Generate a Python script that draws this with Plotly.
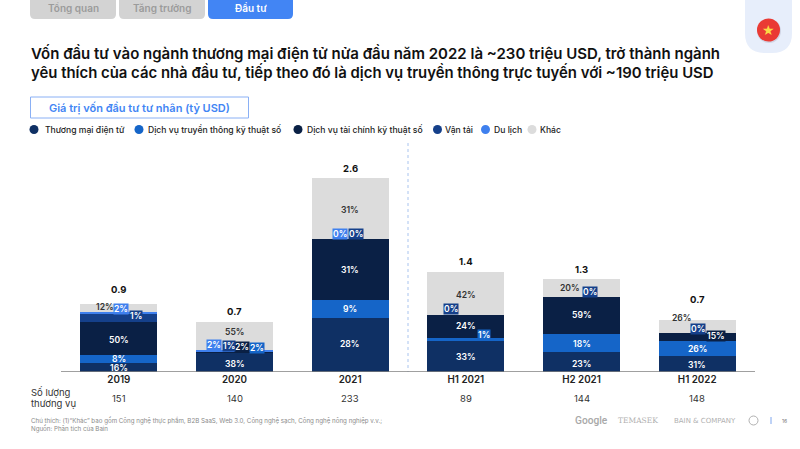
import plotly.graph_objects as go

W, H = 800, 449
categories = ["2019", "2020", "2021", "H1 2021", "H2 2021", "H1 2022"]
totals = ["0.9", "0.7", "2.6", "1.4", "1.3", "0.7"]
deals = [151, 140, 233, 89, 144, 148]

names = ["Thương mại điện tử", "Dịch vụ truyền thông kỹ thuật số", "Dịch vụ tài chính kỹ thuật số", "Vận tải", "Du lịch", "Khác"]
colors = ["#0f3064", "#1565c8", "#0a2045", "#15408a", "#3f80ee", "#dcdcdc"]

ecommerce = [0.12, 0.26, 0.72, 0.415, 0.27, 0.215]
media = [0.107, 0.004, 0.24, 0.04, 0.24, 0.2]
finance = [0.44, 0.01, 0.82, 0.31, 0.5, 0.107]
transport = [0.12, 0.005, 0.0, 0.0, 0.0, 0.0]
travel = [0.02, 0.02, 0.0, 0.0, 0.0, 0.0]
other = [0.10, 0.375, 0.82, 0.575, 0.24, 0.175]
series = [ecommerce, media, finance, transport, travel, other]

pct_ecommerce = [16, 38, 28, 33, 23, 31]
pct_media = [8, 2, 9, 1, 18, 26]
pct_finance = [50, 2, 31, 24, 59, 15]
pct_transport = [1, 1, 0, 0, 0, 0]
pct_travel = [2, 2, 0, None, None, None]
pct_other = [12, 55, 31, 42, 20, 26]
pcts = [pct_ecommerce, pct_media, pct_finance, pct_transport, pct_travel, pct_other]

# label placement (pixel offsets from segment midpoint); boxed = label sits on its own colour chip
offsets = {
    (0, 0): (0, 0), (0, 1): (0, 1.5), (0, 2): (0, -1), (0, 3): (0, 0), (0, 4): (0, 2), (0, 5): (0, 1),
    (1, 0): (0, 0), (1, 1): (22, -4.6), (1, 2): (0, 0), (1, 3): (18, -4.5), (1, 4): (0, 1), (1, 5): (0, 0.5),
    (2, 0): (0, 1.5), (2, 1): (7, -5), (2, 2): (0, 0), (2, 3): (0, 0), (2, 4): (0, 0), (2, 5): (19, -1),
    (3, 0): (17, -1.5), (3, 1): (-6, -5.5), (3, 2): (6, -5), (3, 3): (-15, -6), (3, 4): (8, -5), (3, 5): (1, -4),
    (4, 0): (2, -4), (4, 1): (-20.5, -5.5), (4, 2): (-10, -5),
    (5, 0): (-14, -1), (5, 1): (0, -4), (5, 2): (0, 1.5), (5, 3): (0, 1.5), (5, 4): (-12, 0), (5, 5): (-16, -8.5),
}
boxed = {(1, 1), (1, 3), (2, 1), (2, 5), (3, 0), (3, 1), (3, 2), (3, 3), (3, 4), (3, 5), (4, 0), (4, 1), (4, 2)}
total_shift = [4, 0, -1, 0, -1, 10]

FONT = "Inter, Roboto, sans-serif"


def px(x):
    return x / W


def py(y):
    return 1 - y / H


fig = go.Figure()
for name, vals, col in zip(names, series, colors):
    fig.add_trace(go.Bar(x=list(range(6)), y=vals, name=name, marker=dict(color=col, line=dict(width=0)),
                         width=0.665, showlegend=False, hoverinfo="name+y"))

ann = []
shapes = []


def text(x, y, t, size=10, color="#1f1f1f", weight=400, anchor="left", family=FONT):
    ann.append(dict(xref="paper", yref="paper", x=px(x), y=py(y), text=t, showarrow=False, xanchor=anchor,
                    yanchor="middle", font=dict(size=size, color=color, family=family, weight=weight),
                    borderpad=0))


def path_rect(x0, y0, x1, y1, r, fill):
    d = (f"M {px(x0)} {py(y0)} L {px(x1)} {py(y0)} L {px(x1)} {py(y1 - r)} "
         f"Q {px(x1)} {py(y1)} {px(x1 - r)} {py(y1)} L {px(x0 + r)} {py(y1)} "
         f"Q {px(x0)} {py(y1)} {px(x0)} {py(y1 - r)} Z")
    shapes.append(dict(type="path", xref="paper", yref="paper", path=d, fillcolor=fill, line=dict(width=0), layer="below"))


def circle(cx, cy, r, fill, layer="above"):
    shapes.append(dict(type="circle", xref="paper", yref="paper", x0=px(cx - r), x1=px(cx + r), y0=py(cy + r), y1=py(cy - r),
                       fillcolor=fill, line=dict(width=0), layer=layer))


# segment labels
for s, (vals, plist) in enumerate(zip(series, pcts)):
    for c in range(6):
        if plist[c] is None:
            continue
        base = sum(series[k][c] for k in range(s))
        mid = base + vals[c] / 2
        dx, dy = offsets[(s, c)]
        is_box = (s, c) in boxed
        on_grey = s == 5
        ann.append(dict(x=c, y=mid, xref="x", yref="y", text=f"{plist[c]}%", showarrow=False, xshift=dx, yshift=-dy,
                        font=dict(size=8.6, family=FONT, weight=600, color="#333333" if on_grey else "#ffffff"),
                        bgcolor=colors[s] if is_box else "rgba(0,0,0,0)", borderpad=0))

# totals above the stacks and deal counts below
for c in range(6):
    top = sum(v[c] for v in series)
    ann.append(dict(x=c, y=top, xref="x", yref="y", text=totals[c], showarrow=False, yanchor="bottom",
                    yshift=3 + total_shift[c], font=dict(size=9.5, family=FONT, weight=700, color="#111111")))
    ann.append(dict(x=c, y=py(398), xref="x", yref="paper", text=str(deals[c]), showarrow=False, yanchor="middle",
                    font=dict(size=9.5, family=FONT, color="#333333")))

# tabs
path_rect(30, -4, 116, 19, 5, "#d3d3d3")
path_rect(119, -4, 205, 19, 5, "#d3d3d3")
path_rect(208, -4, 293, 19, 5, "#4285f4")
text(73, 8, "Tổng quan", 10, "#9b9b9b", 600, "center")
text(162, 8, "Tăng trưởng", 10, "#9b9b9b", 600, "center")
text(250.5, 8, "Đầu tư", 10, "#ffffff", 600, "center")

# flag tab
path_rect(745, -4, 792, 53, 20, "#e7eefb")
circle(769, 31, 12, "#d0d4e4")
circle(768.5, 30, 11.5, "#ea3a34")
text(768.5, 30, "★", 14, "#fbd945", 400, "center", "DejaVu Sans")

# headline
text(30, 53, "Vốn đầu tư vào ngành thương mại điện tử nửa đầu năm 2022 là ~230 triệu USD, trở thành ngành", 15.0, "#111111", 600)
text(30, 72, "yêu thích của các nhà đầu tư, tiếp theo đó là dịch vụ truyền thông trực tuyến với ~190 triệu USD", 14.9, "#111111", 600)

# subtitle box
shapes.append(dict(type="rect", xref="paper", yref="paper", x0=px(30.5), x1=px(248.5), y0=py(118), y1=py(97),
                   line=dict(color="#8ab0f5", width=1), fillcolor="#ffffff", layer="below"))
text(139.5, 108, "Giá trị vốn đầu tư tư nhân (tỷ USD)", 11, "#4285f4", 600, "center")

# legend
for cx, tx, name, col in zip([34, 139, 298, 437.5, 485.5, 532], [44, 147, 306, 444, 493, 539], names, colors):
    circle(cx, 129.5, 4.5, col)
    text(tx, 129.5, name, 8.6, "#222222", 500)

# divider between full years and half years
shapes.append(dict(type="line", xref="x", yref="paper", x0=2.5, x1=2.5, y0=py(143), y1=py(372),
                   line=dict(color="#a9c4ef", width=1, dash="dot"), layer="below"))

# row title, notes
text(30, 392, "Số lượng", 9.5, "#333333")
text(30, 403, "thương vụ", 9.5, "#333333")
text(30, 420, "Chú thích: (1)“Khác” bao gồm Công nghệ thực phẩm, B2B SaaS, Web 3.0, Công nghệ sạch, Công nghệ nông nghiệp v.v.;", 6.2, "#8a8a8a")
text(30, 428, "Nguồn: Phân tích của Bain", 6.2, "#8a8a8a")

# logos
text(574, 420, "Google", 10.2, "#a8a8a8", 500, family="Roboto, sans-serif")
text(617, 420.5, "TEMASEK", 7.5, "#b0b0b0", 400, family="DejaVu Serif, serif")
text(673, 420.5, "BAIN &amp; COMPANY", 7, "#b0b0b0", 400, family="DejaVu Sans, sans-serif")
shapes.append(dict(type="circle", xref="paper", yref="paper", x0=px(749), x1=px(758), y0=py(425), y1=py(416),
                   line=dict(color="#b0b0b0", width=1), fillcolor="#ffffff"))
shapes.append(dict(type="line", xref="paper", yref="paper", x0=px(771), x1=px(771), y0=py(417), y1=py(424),
                   line=dict(color="#7ea6ee", width=1)))
text(784, 421, "16", 5, "#777777", 400, "center")
shapes.append(dict(type="line", xref="x", yref="y", x0=-0.5, x1=5.5, y0=0, y1=0, line=dict(color="#808080", width=1.5), layer="above"))

fig.update_layout(
    width=W, height=H, margin=dict(l=0, r=0, t=0, b=0), autosize=False,
    paper_bgcolor="#ffffff", plot_bgcolor="#ffffff", barmode="stack", showlegend=False,
    annotations=ann, shapes=shapes,
    xaxis=dict(domain=[px(61), px(755)], range=[-0.5, 5.5], tickvals=list(range(6)), ticktext=categories,
               showgrid=False, zeroline=False, showline=False, ticks="", ticklen=0,
               tickfont=dict(size=9.8, family=FONT, color="#222222", weight=600)),
    yaxis=dict(domain=[py(372), py(150)], range=[0, 222 / 74.6], visible=False, showgrid=False, zeroline=False),
)
fig.write_html("out.html", config={"displayModeBar": False},
               post_script="document.body.style.margin='0';window.dispatchEvent(new Event('resize'));")
